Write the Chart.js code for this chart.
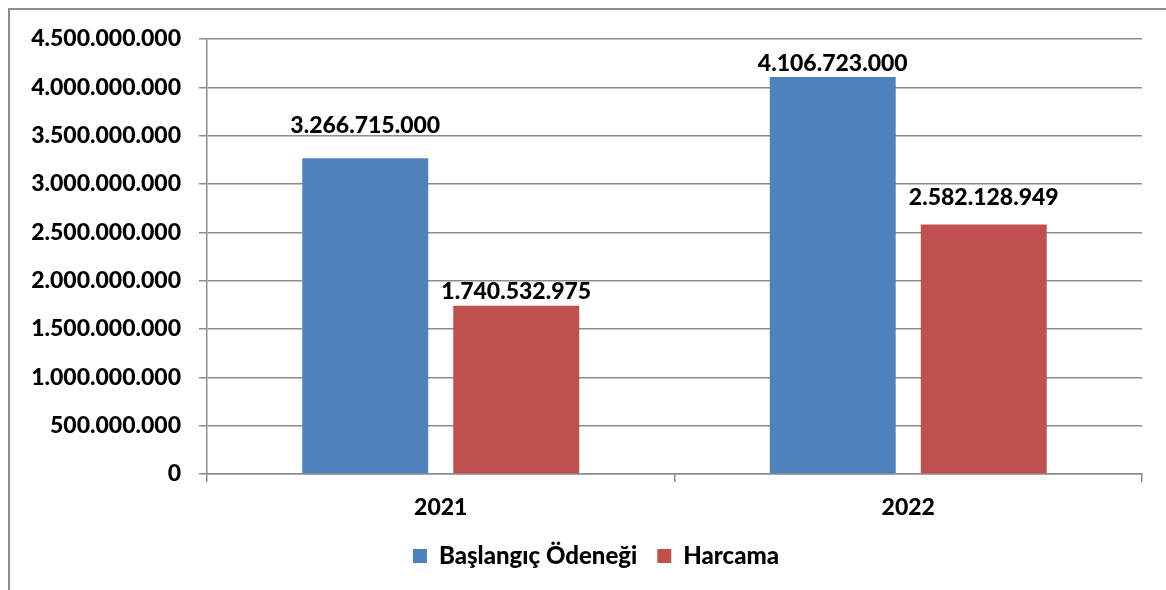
<!DOCTYPE html>
<html>
<head>
<meta charset="utf-8">
<script src="https://cdn.jsdelivr.net/npm/chart.js@4/dist/chart.umd.min.js"></script>
<style>
  html, body { margin: 0; padding: 0; background: #fff; }
  #wrap { position: absolute; left: 0; top: 0; width: 1166px; height: 590px; }
</style>
</head>
<body>
<div id="wrap"><canvas id="chart1" width="1166" height="590"></canvas></div>
<script>
// values
var years = ["2021", "2022"];
var baslangic = [3266715000, 4106723000];
var harcama = [1740532975, 2582128949];
var seriesNames = ["Başlangıç Ödeneği", "Harcama"];

// how far above each bar top the value label sits (px), per series
var labelLift = [[33, 13], [14, 27]];

function dots(v) {
  return String(Math.round(v)).replace(/\B(?=(\d{3})+(?!\d))/g, ".");
}

var FONT = "Lato, 'Open Sans', sans-serif";

// outer frame of the chart box
var framePlugin = {
  id: "frame",
  beforeDraw: function (chart) {
    var ctx = chart.ctx;
    ctx.save();
    ctx.fillStyle = "#fff";
    ctx.fillRect(0, 0, chart.width, chart.height);
    ctx.strokeStyle = "#8c8c8c";
    ctx.lineWidth = 2;
    ctx.beginPath();
    ctx.moveTo(9, chart.height + 5);
    ctx.lineTo(9, 9);
    ctx.lineTo(chart.width + 5, 9);
    ctx.stroke();
    ctx.restore();
  }
};

// legend in the original sits a bit right of canvas centre
var legendShift = {
  id: "legendShift",
  afterLayout: function (chart) {
    chart.legend.left += 50;
  }
};

// value labels above bars
var valuePlugin = {
  id: "values",
  afterDatasetsDraw: function (chart) {
    var ctx = chart.ctx;
    ctx.save();
    ctx.font = "900 23px " + FONT;
    ctx.fillStyle = "#000";
    ctx.textAlign = "center";
    ctx.textBaseline = "middle";
    chart.data.datasets.forEach(function (ds, di) {
      chart.getDatasetMeta(di).data.forEach(function (bar, i) {
        ctx.fillText(dots(ds.data[i]), bar.x, bar.y - labelLift[di][i]);
      });
    });
    ctx.restore();
  }
};

var myBar = new Chart(document.getElementById("chart1"), {
  type: "bar",
  data: {
    labels: years,
    datasets: [
      { label: seriesNames[0], data: baslangic, backgroundColor: "#4F81BD" },
      { label: seriesNames[1], data: harcama, backgroundColor: "#C0504D" }
    ]
  },
  options: {
    responsive: false,
    animation: false,
    layout: { padding: { top: 39, right: 24, left: 0, bottom: 12 } },
    datasets: { bar: { categoryPercentage: 0.646, barPercentage: 0.834 } },
    plugins: {
      legend: {
        position: "bottom",
        labels: {
          color: "#000",
          font: { family: FONT, size: 24, weight: "900" },
          boxWidth: 14,
          boxHeight: 14,
          padding: 20
        }
      },
      tooltip: { enabled: false }
    },
    scales: {
      x: {
        grid: { offset: true, drawOnChartArea: false, color: "#8c8c8c", lineWidth: 1.5, tickLength: 8 },
        border: { color: "#8c8c8c", width: 1.5 },
        ticks: { color: "#000", font: { family: FONT, size: 23, weight: "900" }, padding: 12 },
        afterFit: function (s) { s.height = 50; }
      },
      y: {
        min: 0,
        max: 4500000000,
        grid: { color: "#8c8c8c", lineWidth: 1.5, tickLength: 8 },
        border: { color: "#8c8c8c", width: 1.5 },
        ticks: {
          stepSize: 500000000,
          color: "#000",
          font: { family: FONT, size: 23, weight: "900" },
          padding: 18,
          callback: function (v) { return dots(v); }
        },
        afterFit: function (s) { s.width = 207; }
      }
    }
  },
  plugins: [framePlugin, legendShift, valuePlugin]
});
</script>
</body>
</html>
